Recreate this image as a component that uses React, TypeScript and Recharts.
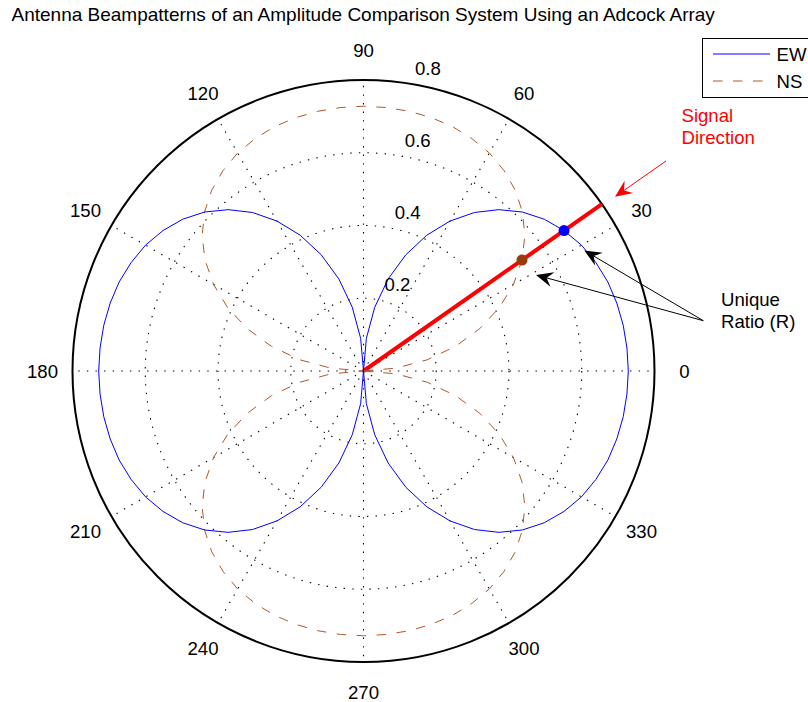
import React from "react";
import {
  RadarChart,
  PolarGrid,
  PolarAngleAxis,
  PolarRadiusAxis,
  Radar,
  Legend,
} from "recharts";

// Beampattern samples, every 5 degrees from 0 to 355
const ANGLES = Array.from({ length: 72 }, (_, i) => i * 5);

const EW = [
  0.728, 0.727, 0.725, 0.721, 0.715, 0.705, 0.692, 0.673, 0.649, 0.618, 0.579, 0.532, 0.476, 0.412, 0.34, 0.262, 0.178, 0.09,
  0, 0.09, 0.178, 0.262, 0.34, 0.412, 0.476, 0.532, 0.579, 0.618, 0.649, 0.673, 0.692, 0.705, 0.715, 0.721, 0.725, 0.727,
  0.728, 0.727, 0.725, 0.721, 0.715, 0.705, 0.692, 0.673, 0.649, 0.618, 0.579, 0.532, 0.476, 0.412, 0.34, 0.262, 0.178, 0.09,
  0, 0.09, 0.178, 0.262, 0.34, 0.412, 0.476, 0.532, 0.579, 0.618, 0.649, 0.673, 0.692, 0.705, 0.715, 0.721, 0.725, 0.727,
];

const NS = [
  0, 0.09, 0.178, 0.262, 0.34, 0.412, 0.476, 0.532, 0.579, 0.618, 0.649, 0.673, 0.692, 0.705, 0.715, 0.721, 0.725, 0.727,
  0.728, 0.727, 0.725, 0.721, 0.715, 0.705, 0.692, 0.673, 0.649, 0.618, 0.579, 0.532, 0.476, 0.412, 0.34, 0.262, 0.178, 0.09,
  0, 0.09, 0.178, 0.262, 0.34, 0.412, 0.476, 0.532, 0.579, 0.618, 0.649, 0.673, 0.692, 0.705, 0.715, 0.721, 0.725, 0.727,
  0.728, 0.727, 0.725, 0.721, 0.715, 0.705, 0.692, 0.673, 0.649, 0.618, 0.579, 0.532, 0.476, 0.412, 0.34, 0.262, 0.178, 0.09,
];

const SPOKES = [0, 30, 60, 90, 120, 150, 180, 210, 240, 270, 300, 330];
const RINGS = [0.2, 0.4, 0.6, 0.8];
const R_MAX = 0.8;

const SIGNAL_ANGLE = 35;
const SIGNAL_REACH = 0.8;

const rows = ANGLES.map((angle, i) => ({
  angle,
  ew: EW[i],
  ns: NS[i],
  signal: angle === SIGNAL_ANGLE ? SIGNAL_REACH : 0,
}));

const W = 808;
const H = 702;
const CX = 363.5;
const CY = 371;
const OUTER = 291; // pixel radius of the 0.8 ring
// the radius axis here always spans 0..1, so the series chart is sized so 0.8 lands on OUTER
const DATA_RADIUS = OUTER / R_MAX;

const FONT = "'Liberation Sans', Arial, Helvetica, sans-serif";
const FS = 18.6;

const BLUE = "#0000ff";
const BROWN = "#b0582a";
const BROWN_DOT = "#983a0c";
const RED = "#ff0000";

const signalIdx = ANGLES.indexOf(SIGNAL_ANGLE);

const markAt = (color: string) => (props: any) => {
  if (props.index !== signalIdx) return <g key={props.key} />;
  return <circle key={props.key} cx={props.cx} cy={props.cy} r={5.5} fill={color} stroke="none" />;
};

const AngleTick = (props: any) => {
  const { x, y, payload } = props;
  return (
    <text x={x} y={y} textAnchor="middle" dominantBaseline="central" fontFamily={FONT} fontSize={FS} fill="#000">
      {payload.value}
    </text>
  );
};

const RadiusTick = (props: any) => {
  const { x, y, payload } = props;
  return (
    <text x={x + 11} y={y - 14.5} textAnchor="start" dominantBaseline="central" fontFamily={FONT} fontSize={FS} fill="#000">
      {payload.value}
    </text>
  );
};

const LegendBox = () => (
  <svg width={120} height={62} style={{ display: "block" }}>
    <rect x={0.5} y={0.5} width={130} height={59} fill="#fff" stroke="#000" strokeWidth={1} />
    <line x1={11} y1={16} x2={68} y2={16} stroke={BLUE} strokeWidth={1} />
    <text x={74.5} y={22.6} fontFamily={FONT} fontSize={FS} fill="#000">EW</text>
    <line x1={11} y1={43} x2={68} y2={43} stroke={BROWN} strokeWidth={1} strokeDasharray="9.5 10.5" />
    <text x={74.5} y={49.6} fontFamily={FONT} fontSize={FS} fill="#000">NS</text>
  </svg>
);

function Arrow({ x1, y1, x2, y2, color }: { x1: number; y1: number; x2: number; y2: number; color: string }) {
  const a = Math.atan2(y2 - y1, x2 - x1);
  const ux = Math.cos(a);
  const uy = Math.sin(a);
  const nx = -uy;
  const ny = ux;
  const L = 17;
  const HW = 7.5;
  const N = 11;
  const pts = [
    [x2, y2],
    [x2 - L * ux + HW * nx, y2 - L * uy + HW * ny],
    [x2 - N * ux, y2 - N * uy],
    [x2 - L * ux - HW * nx, y2 - L * uy - HW * ny],
  ]
    .map((p) => p.join(","))
    .join(" ");
  return (
    <g>
      <line x1={x1} y1={y1} x2={x2 - N * ux} y2={y2 - N * uy} stroke={color} strokeWidth={1} />
      <polygon points={pts} fill={color} stroke="none" />
    </g>
  );
}

const layer: React.CSSProperties = { position: "absolute", left: 0, top: 0 };

export default function App() {
  return (
    <div
      style={{
        position: "absolute",
        left: 0,
        top: 0,
        width: W,
        height: H,
        overflow: "hidden",
        background: "#fff",
        fontFamily: FONT,
      }}
    >
      {/* polar frame: dotted rings and spokes, solid outer circle, angle labels */}
      <div style={layer}>
        <RadarChart
          width={W}
          height={H}
          cx={CX}
          cy={CY}
          outerRadius={OUTER}
          data={rows}
          startAngle={0}
          endAngle={360}
          margin={{ top: 0, right: 0, bottom: 0, left: 0 }}
        >
          <PolarGrid
            gridType="circle"
            polarRadius={RINGS.filter((r) => r < R_MAX).map((r) => (r / R_MAX) * OUTER)}
            polarAngles={SPOKES}
            stroke="#000"
            strokeWidth={1.1}
            strokeDasharray="1.4 7.2"
          />
          <PolarAngleAxis
            dataKey="angle"
            type="number"
            domain={[0, 360]}
            ticks={SPOKES}
            tickSize={30}
            tickLine={false}
            axisLine={{ stroke: "#000", strokeWidth: 2 }}
            axisLineType="circle"
            tick={<AngleTick />}
          />
        </RadarChart>
      </div>

      {/* beampattern series */}
      <div style={layer}>
        <RadarChart
          width={W}
          height={H}
          cx={CX}
          cy={CY}
          outerRadius={DATA_RADIUS}
          data={rows}
          startAngle={0}
          endAngle={360}
          margin={{ top: 0, right: 0, bottom: 0, left: 0 }}
        >
          <PolarAngleAxis dataKey="angle" type="number" domain={[0, 360]} tick={false} tickLine={false} axisLine={false} />
          <PolarRadiusAxis
            angle={82}
            type="number"
            domain={[0, 1]}
            ticks={RINGS}
            axisLine={false}
            tickLine={false}
            tick={<RadiusTick />}
          />
          <Radar
            dataKey="signal"
            name="Signal"
            stroke={RED}
            strokeWidth={4}
            fill="none"
            fillOpacity={0}
            dot={false}
            isAnimationActive={false}
            legendType="none"
          />
          <Radar
            dataKey="ns"
            name="NS"
            stroke={BROWN}
            strokeWidth={1}
            strokeDasharray="9.5 10.5"
            fill="none"
            fillOpacity={0}
            dot={markAt(BROWN_DOT)}
            isAnimationActive={false}
          />
          <Radar
            dataKey="ew"
            name="EW"
            stroke={BLUE}
            strokeWidth={1}
            fill="none"
            fillOpacity={0}
            dot={markAt(BLUE)}
            isAnimationActive={false}
          />
          <Legend
            content={() => <LegendBox />}
            wrapperStyle={{ position: "absolute", left: 702, top: 38, width: 120, height: 62, bottom: "auto" }}
          />
        </RadarChart>
      </div>

      <svg width={W} height={H} style={{ ...layer, pointerEvents: "none" }}>
        <text x={11.5} y={20.7} fontFamily={FONT} fontSize={19} fill="#000">
          Antenna Beampatterns of an Amplitude Comparison System Using an Adcock Array
        </text>

        <text x={681.5} y={122.3} fontFamily={FONT} fontSize={FS} fill={RED}>Signal</text>
        <text x={681.5} y={144.3} fontFamily={FONT} fontSize={FS} fill={RED}>Direction</text>
        <Arrow x1={666} y1={161} x2={615} y2={196.7} color={RED} />

        <text x={721} y={306} fontFamily={FONT} fontSize={FS} fill="#000">Unique</text>
        <text x={721} y={328} fontFamily={FONT} fontSize={FS} fill="#000">Ratio (R)</text>
        <Arrow x1={703.3} y1={320.7} x2={584.3} y2={250.5} color="#000" />
        <Arrow x1={703.3} y1={320.7} x2={536} y2={275} color="#000" />
      </svg>
    </div>
  );
}
